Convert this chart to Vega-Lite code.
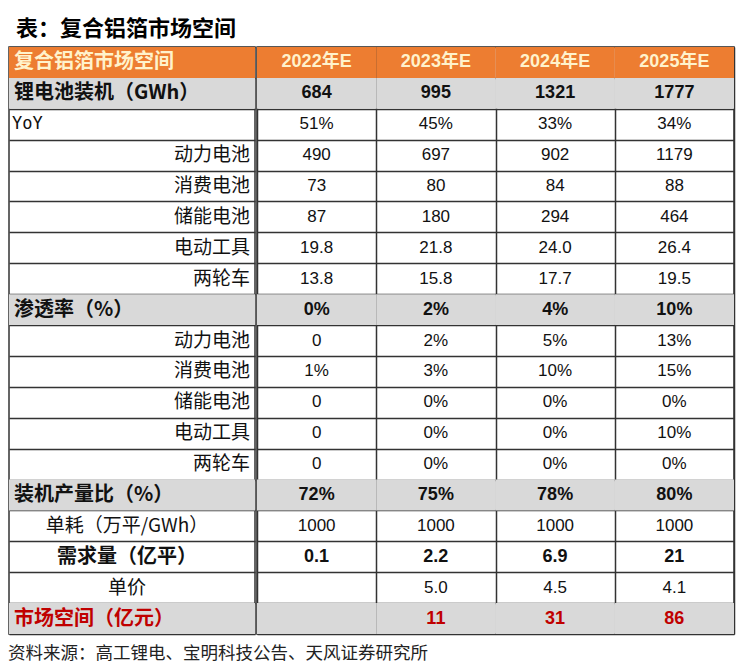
{
  "$schema": "https://vega.github.io/schema/vega-lite/v6.json",
  "padding": {"left": 8, "top": 18, "right": 10, "bottom": 2},
  "background": "#ffffff",
  "title": {"text": "表：复合铝箔市场空间", "anchor": "start", "fontSize": 22, "fontWeight": "bold", "font": "Noto Sans CJK SC", "color": "#000000", "offset": 5, "dx": 8},
  "config": {
    "view": {"stroke": "#333333", "strokeWidth": 1.5},
    "axis": {"gridColor": "#333333", "gridWidth": 1.5, "gridOpacity": 1, "labels": false, "ticks": false, "domain": false, "title": null, "minExtent": 0, "zindex": 1, "tickBand": "extent"}
  },
  "datasets": {
    "rows": [
      {"r": 0, "kind": "header", "label": "复合铝箔市场空间", "y2022": "2022年E", "y2023": "2023年E", "y2024": "2024年E", "y2025": "2025年E"},
      {"r": 1, "kind": "major", "label": "锂电池装机（GWh）", "y2022": "684", "y2023": "995", "y2024": "1321", "y2025": "1777"},
      {"r": 2, "kind": "yoy", "label": "YoY", "y2022": "51%", "y2023": "45%", "y2024": "33%", "y2025": "34%"},
      {"r": 3, "kind": "sub", "label": "动力电池", "y2022": "490", "y2023": "697", "y2024": "902", "y2025": "1179"},
      {"r": 4, "kind": "sub", "label": "消费电池", "y2022": "73", "y2023": "80", "y2024": "84", "y2025": "88"},
      {"r": 5, "kind": "sub", "label": "储能电池", "y2022": "87", "y2023": "180", "y2024": "294", "y2025": "464"},
      {"r": 6, "kind": "sub", "label": "电动工具", "y2022": "19.8", "y2023": "21.8", "y2024": "24.0", "y2025": "26.4"},
      {"r": 7, "kind": "sub", "label": "两轮车", "y2022": "13.8", "y2023": "15.8", "y2024": "17.7", "y2025": "19.5"},
      {"r": 8, "kind": "major", "label": "渗透率（%）", "y2022": "0%", "y2023": "2%", "y2024": "4%", "y2025": "10%"},
      {"r": 9, "kind": "sub", "label": "动力电池", "y2022": "0", "y2023": "2%", "y2024": "5%", "y2025": "13%"},
      {"r": 10, "kind": "sub", "label": "消费电池", "y2022": "1%", "y2023": "3%", "y2024": "10%", "y2025": "15%"},
      {"r": 11, "kind": "sub", "label": "储能电池", "y2022": "0", "y2023": "0%", "y2024": "0%", "y2025": "0%"},
      {"r": 12, "kind": "sub", "label": "电动工具", "y2022": "0", "y2023": "0%", "y2024": "0%", "y2025": "10%"},
      {"r": 13, "kind": "sub", "label": "两轮车", "y2022": "0", "y2023": "0%", "y2024": "0%", "y2025": "0%"},
      {"r": 14, "kind": "major", "label": "装机产量比（%）", "y2022": "72%", "y2023": "75%", "y2024": "78%", "y2025": "80%"},
      {"r": 15, "kind": "center", "label": "单耗（万平/GWh）", "y2022": "1000", "y2023": "1000", "y2024": "1000", "y2025": "1000"},
      {"r": 16, "kind": "centerBold", "label": "需求量（亿平）", "y2022": "0.1", "y2023": "2.2", "y2024": "6.9", "y2025": "21"},
      {"r": 17, "kind": "center", "label": "单价", "y2022": "", "y2023": "5.0", "y2024": "4.5", "y2025": "4.1"},
      {"r": 18, "kind": "red", "label": "市场空间（亿元）", "y2022": "", "y2023": "11", "y2024": "31", "y2025": "86"}
    ]
  },
  "vconcat": [
    {
      "spacing": 0,
      "hconcat": [
        {
          "width": 246,
          "height": 587,
          "data": {"name": "rows"},
          "encoding": {
            "y": {"field": "r", "type": "ordinal", "scale": {"domain": [0,1,2,3,4,5,6,7,8,9,10,11,12,13,14,15,16,17,18], "paddingInner": 0, "paddingOuter": 0}, "axis": {"grid": true}}
          },
          "layer": [
            {
              "transform": [{"filter": "indexof(['header','major','red'], datum.kind) >= 0"}],
              "mark": {"type": "rect"},
              "encoding": {"fill": {"condition": {"test": "datum.kind === 'header'", "value": "#ED7D31"}, "value": "#D9D9D9"}}
            },
            {
              "transform": [{"filter": "indexof(['header','major','red'], datum.kind) >= 0"}],
              "mark": {"type": "text", "align": "left", "baseline": "middle", "dx": 5, "fontWeight": "bold", "fontSize": 20, "font": "Noto Sans CJK SC"},
              "encoding": {
                "x": {"datum": 0, "type": "quantitative", "scale": {"domain": [0, 1]}, "axis": null},
                "text": {"field": "label"},
                "color": {"condition": [{"test": "datum.kind === 'header'", "value": "#FFF2CC"}, {"test": "datum.kind === 'red'", "value": "#C00000"}], "value": "#111111"}
              }
            },
            {
              "transform": [{"filter": "datum.kind === 'yoy'"}],
              "mark": {"type": "text", "align": "left", "baseline": "middle", "dx": 3, "fontSize": 17, "font": "DejaVu Sans Mono", "color": "#111111"},
              "encoding": {
                "x": {"datum": 0, "type": "quantitative", "scale": {"domain": [0, 1]}, "axis": null},
                "text": {"field": "label"}
              }
            },
            {
              "transform": [{"filter": "datum.kind === 'sub'"}],
              "mark": {"type": "text", "align": "right", "baseline": "middle", "dx": -5, "fontSize": 19, "font": "Noto Sans CJK SC", "color": "#111111"},
              "encoding": {
                "x": {"datum": 1, "type": "quantitative", "scale": {"domain": [0, 1]}, "axis": null},
                "text": {"field": "label"}
              }
            },
            {
              "transform": [{"filter": "datum.kind === 'center'"}],
              "mark": {"type": "text", "align": "center", "baseline": "middle", "dx": -5, "fontSize": 19, "font": "Noto Sans CJK SC", "color": "#111111"},
              "encoding": {
                "x": {"datum": 0.5, "type": "quantitative", "scale": {"domain": [0, 1]}, "axis": null},
                "text": {"field": "label"}
              }
            },
            {
              "transform": [{"filter": "datum.kind === 'centerBold'"}],
              "mark": {"type": "text", "align": "center", "baseline": "middle", "dx": -5, "fontSize": 20, "fontWeight": "bold", "font": "Noto Sans CJK SC", "color": "#111111"},
              "encoding": {
                "x": {"datum": 0.5, "type": "quantitative", "scale": {"domain": [0, 1]}, "axis": null},
                "text": {"field": "label"}
              }
            }
          ]
        },
        {
          "width": 477,
          "height": 587,
          "data": {"name": "rows"},
          "transform": [{"fold": ["y2022", "y2023", "y2024", "y2025"], "as": ["year", "val"]}],
          "encoding": {
            "y": {"field": "r", "type": "ordinal", "scale": {"domain": [0,1,2,3,4,5,6,7,8,9,10,11,12,13,14,15,16,17,18], "paddingInner": 0, "paddingOuter": 0}, "axis": {"grid": true}},
            "x": {"field": "year", "type": "nominal", "scale": {"domain": ["y2022", "y2023", "y2024", "y2025"], "paddingInner": 0, "paddingOuter": 0}, "axis": {"grid": true}}
          },
          "layer": [
            {
              "transform": [{"filter": "indexof(['header','major','red'], datum.kind) >= 0"}],
              "mark": {"type": "rect"},
              "encoding": {"fill": {"condition": {"test": "datum.kind === 'header'", "value": "#ED7D31"}, "value": "#D9D9D9"}}
            },
            {
              "transform": [{"filter": "indexof(['header','major','red','centerBold'], datum.kind) >= 0"}],
              "mark": {"type": "text", "align": "center", "baseline": "middle", "fontWeight": "bold", "fontSize": 18, "font": "Liberation Sans, Noto Sans CJK SC"},
              "encoding": {
                "text": {"field": "val"},
                "color": {"condition": [{"test": "datum.kind === 'header'", "value": "#FFF2CC"}, {"test": "datum.kind === 'red'", "value": "#C00000"}], "value": "#111111"}
              }
            },
            {
              "transform": [{"filter": "indexof(['yoy','sub','center'], datum.kind) >= 0"}],
              "mark": {"type": "text", "align": "center", "baseline": "middle", "fontSize": 17, "font": "Liberation Sans, Noto Sans CJK SC", "color": "#111111"},
              "encoding": {
                "text": {"field": "val"}
              }
            }
          ]
        }
      ]
    },
    {
      "width": 723,
      "height": 20,
      "view": {"stroke": null},
      "data": {"values": [{"src": "资料来源：高工锂电、宝明科技公告、天风证券研究所"}]},
      "mark": {"type": "text", "align": "left", "baseline": "middle", "dx": -1, "fontSize": 17.5, "font": "Noto Sans CJK SC", "color": "#222222"},
      "encoding": {
        "text": {"field": "src"},
        "x": {"datum": 0, "type": "quantitative", "scale": {"domain": [0, 1]}, "axis": null},
        "y": {"datum": 0.5, "type": "quantitative", "scale": {"domain": [0, 1]}, "axis": null}
      }
    }
  ],
  "spacing": 9
}
